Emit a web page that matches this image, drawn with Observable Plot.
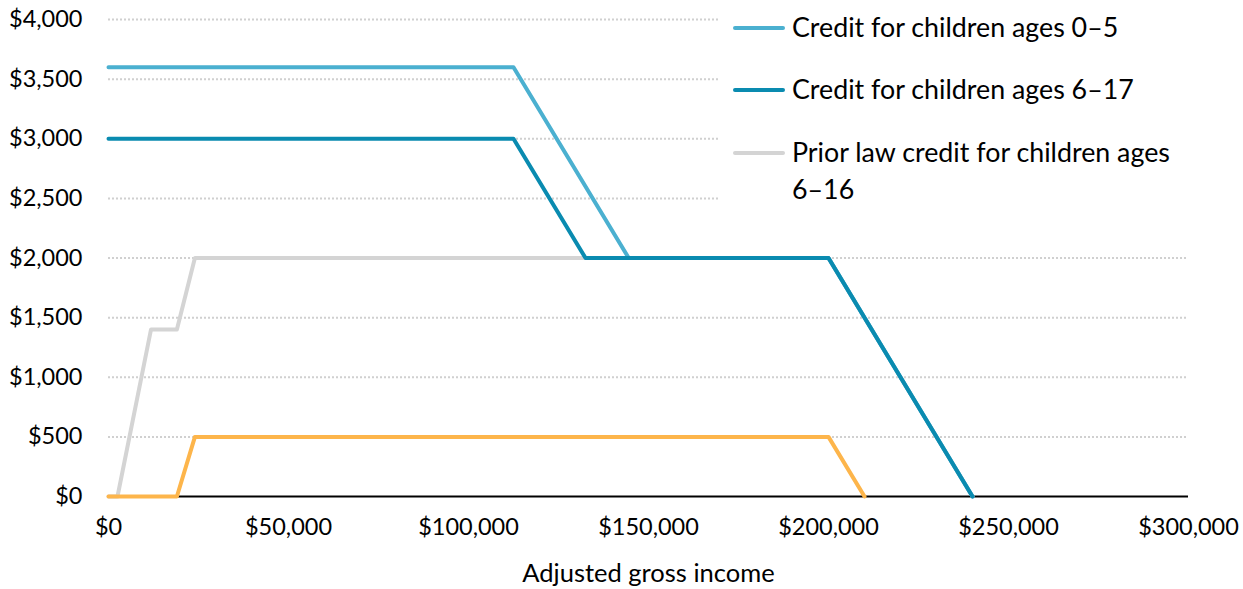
<!DOCTYPE html>
<html>
<head>
<meta charset="utf-8">
<script src="https://cdn.jsdelivr.net/npm/d3@7"></script>
<script src="https://cdn.jsdelivr.net/npm/@observablehq/plot@0.6"></script>
<style>
  html, body { margin: 0; padding: 0; background: #fff; }
  #wrap { position: relative; width: 1243px; height: 589px; font-family: Lato, "Open Sans", sans-serif; }
  #legend { position: absolute; left: 718px; top: 0px; width: 472px; height: 226px; background: #fff; }
  .item { position: absolute; left: 15px; display: flex; align-items: flex-start; font-size: 26.8px; color: #000; line-height: 37px; }
  .sw { width: 52px; height: 4px; border-radius: 2px; margin-top: 17px; margin-right: 7px; flex: none; }
  svg g[aria-label="x-axis label"] text { font-size: 25.5px; }
</style>
</head>
<body>
<div id="wrap"></div>
<script>
// Data (x = adjusted gross income in $, y = credit in $)
const age0to5X   = [0, 112500, 144500, 200000, 240000];
const age0to5Y   = [3600, 3600, 2000, 2000, 0];
const age6to17X  = [0, 112500, 132500, 200000, 240000];
const age6to17Y  = [3000, 3000, 2000, 2000, 0];
const priorX     = [0, 2500, 11800, 19000, 24000, 200000, 240000];
const priorY     = [0, 0, 1400, 1400, 2000, 2000, 0];
const otherX     = [0, 19000, 24000, 200000, 210000];
const otherY     = [0, 0, 500, 500, 0];
const xTicks     = [0, 50000, 100000, 150000, 200000, 250000, 300000];
const yTicks     = [0, 500, 1000, 1500, 2000, 2500, 3000, 3500, 4000];
const legendLabels = ["Credit for children ages 0–5", "Credit for children ages 6–17", "Prior law credit for children ages 6–16"];

const colors = { a05: "#4bb0d0", a617: "#0a8bb0", prior: "#d4d4d4", other: "#fdb54b" };

const toRows = (xs, ys) => xs.map((x, i) => ({x, y: ys[i]}));
const fmt = d3.format("$,");

const chart = Plot.plot({
  width: 1243,
  height: 589,
  marginLeft: 108,
  marginRight: 55,
  marginTop: 19,
  marginBottom: 93,
  style: { fontFamily: "Lato, 'Open Sans', sans-serif", fontSize: "23.5px", color: "#000", background: "#fff" },
  x: { domain: [0, 300000], ticks: xTicks, tickFormat: fmt, tickSize: 0, tickPadding: 22, label: "Adjusted gross income", labelAnchor: "center", labelArrow: "none", labelOffset: 85 },
  y: { domain: [0, 4000], ticks: yTicks, tickFormat: fmt, tickSize: 0, tickPadding: 26, label: null },
  marks: [
    Plot.ruleY(yTicks.filter(d => d > 0), { stroke: "#d0d0d0", strokeWidth: 2, strokeDasharray: "2,2" }),
    Plot.ruleY([0], { stroke: "#000", strokeWidth: 2 }),
    Plot.line(toRows(priorX, priorY), { x: "x", y: "y", stroke: colors.prior, strokeWidth: 4 }),
    Plot.line(toRows(otherX, otherY), { x: "x", y: "y", stroke: colors.other, strokeWidth: 4 }),
    Plot.line(toRows(age0to5X, age0to5Y), { x: "x", y: "y", stroke: colors.a05, strokeWidth: 4 }),
    Plot.line(toRows(age6to17X, age6to17Y), { x: "x", y: "y", stroke: colors.a617, strokeWidth: 4 })
  ]
});

const wrap = document.getElementById("wrap");
wrap.appendChild(chart);

const legend = document.createElement("div");
legend.id = "legend";
const legendColors = [colors.a05, colors.a617, colors.prior];
const tops = [9, 71, 134];
legendLabels.forEach((lab, i) => {
  const item = document.createElement("div");
  item.className = "item";
  item.style.top = tops[i] + "px";
  if (i === 2) item.style.width = "440px";
  const sw = document.createElement("div");
  sw.className = "sw";
  sw.style.background = legendColors[i];
  const t = document.createElement("div");
  t.textContent = lab;
  item.appendChild(sw);
  item.appendChild(t);
  legend.appendChild(item);
});
wrap.appendChild(legend);
</script>
</body>
</html>
